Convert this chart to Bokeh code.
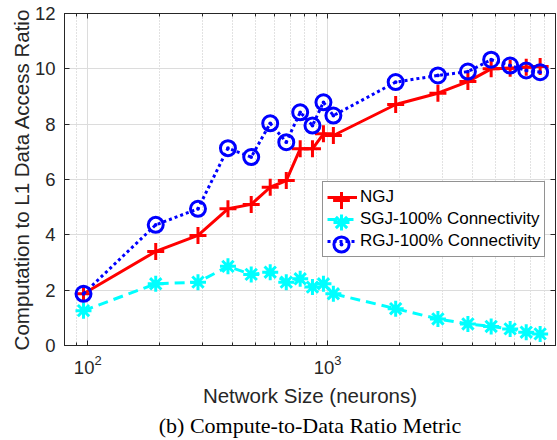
from bokeh.plotting import figure
from bokeh.models import (LogAxis, LinearAxis, FixedTicker, Legend, LegendItem,
                          Title, Range1d, CustomJSTickFormatter)
from bokeh.embed import file_html
from bokeh.resources import INLINE

# ---- data ----
network_size = [96, 192, 288, 384, 480, 576, 672, 768, 864, 960, 1056,
                1920, 2880, 3840, 4800, 5760, 6720, 7680]
ngj = [1.87, 3.40, 3.98, 4.94, 5.10, 5.72, 5.96, 7.11, 7.11, 7.65, 7.59,
       8.71, 9.12, 9.54, 10.00, 10.02, 10.06, 10.08]
sgj = [1.26, 2.23, 2.29, 2.86, 2.57, 2.65, 2.29, 2.41, 2.11, 2.23, 1.87,
       1.33, 0.96, 0.78, 0.69, 0.60, 0.48, 0.42]
rgj = [1.87, 4.36, 4.94, 7.13, 6.81, 8.03, 7.35, 8.43, 7.95, 8.79, 8.31,
       9.52, 9.76, 9.90, 10.33, 10.12, 9.94, 9.88]

x_major = [100, 1000]
x_minor = [80, 90, 200, 300, 400, 500, 600, 700, 800, 900,
           2000, 3000, 4000, 5000, 6000, 7000, 8000]
y_ticks = [0, 2, 4, 6, 8, 10, 12]

series_labels = ["NGJ", "SGJ-100% Connectivity", "RGJ-100% Connectivity"]
x_label = "Network Size (neurons)"
y_label = "Computation to L1 Data Access Ratio"
caption = "(b) Compute-to-Data Ratio Metric"

AX = "#262626"
FONT = "Liberation Sans"

p = figure(width=557, height=440, x_axis_type="log",
           x_range=Range1d(80, 8900), y_range=Range1d(0, 12),
           output_backend="svg", toolbar_location=None,
           min_border_left=64, min_border_right=2, min_border_top=13,
           min_border_bottom=95)
p.background_fill_color = "white"
p.border_fill_color = "white"
p.outline_line_color = AX

xt = FixedTicker(ticks=x_major, minor_ticks=x_minor)
yt = FixedTicker(ticks=y_ticks, minor_ticks=[])

for ax in p.xaxis:
    ax.ticker = xt
    ax.axis_label = x_label
for ax in p.yaxis:
    ax.ticker = yt
    ax.axis_label = y_label

def style_axis(ax):
    ax.axis_line_color = AX
    ax.major_tick_line_color = AX
    ax.minor_tick_line_color = AX
    ax.major_tick_in = 5
    ax.major_tick_out = 0
    ax.minor_tick_in = 3
    ax.minor_tick_out = 0
    ax.major_label_text_color = AX
    ax.major_label_text_font = FONT
    ax.major_label_text_font_size = "18.5px"
    ax.axis_label_text_color = AX
    ax.axis_label_text_font = FONT
    ax.axis_label_text_font_size = "20.5px"
    ax.axis_label_text_font_style = "normal"

for ax in p.xaxis + p.yaxis:
    style_axis(ax)
p.xaxis.major_label_standoff = 9
p.xaxis.axis_label_standoff = 7
p.yaxis.major_label_standoff = 9
p.yaxis.axis_label_standoff = -1

# box axes (top / right) with inward ticks, no labels
blank = CustomJSTickFormatter(code="return ''")
top = LogAxis(ticker=xt, formatter=blank)
right = LinearAxis(ticker=yt, formatter=blank)
for ax in (top, right):
    style_axis(ax)
    ax.major_label_text_font_size = "0px"
    ax.major_label_standoff = 0
p.add_layout(top, "above")
p.add_layout(right, "right")

# grids
p.xgrid.ticker = xt
p.ygrid.ticker = yt
p.xgrid.grid_line_color = "#dcdcdc"
p.ygrid.grid_line_color = "#dcdcdc"
p.xgrid.minor_grid_line_color = "#c4c4c4"
p.xgrid.minor_grid_line_dash = "1 2"

# series
l1 = p.line(network_size, ngj, line_color="#ff0000", line_width=3)
m1 = p.scatter(network_size, ngj, marker="cross", size=17,
               line_color="#ff0000", line_width=3)
l2 = p.line(network_size, sgj, line_color="#00ffff", line_width=3,
            line_dash="10 6")
m2 = p.scatter(network_size, sgj, marker="asterisk", size=16,
               line_color="#00ffff", line_width=3)
l3 = p.line(network_size, rgj, line_color="#0000ff", line_width=3,
            line_dash="3 3")
m3 = p.scatter(network_size, rgj, marker="circle_dot", size=15,
               line_color="#0000ff", fill_color=None, line_width=3)

# legend: lines + labels (framed box)
legend = Legend(items=[
    LegendItem(label=series_labels[0], renderers=[l1]),
    LegendItem(label=series_labels[1], renderers=[l2]),
    LegendItem(label=series_labels[2], renderers=[l3]),
], location=(258, 88))
legend.border_line_color = AX
legend.border_line_width = 1
legend.background_fill_color = "white"
legend.background_fill_alpha = 1
legend.label_text_font = FONT
legend.label_text_font_size = "17px"
legend.label_text_color = "black"
legend.glyph_width = 30
legend.glyph_height = 22
legend.label_height = 22
legend.spacing = 0
legend.padding = 4
legend.margin = 0
legend.label_standoff = 3
p.add_layout(legend, "center")

# legend markers at full size (one transparent legend per series marker)
marker_rows = [(m1, 42.5), (m2, 40), (m3, 37.5)]
for i, (m, gsz) in enumerate(marker_rows):
    cy = 88 + 72 - 4 - 11 - 22 * i  # row centre, px above frame bottom
    lg = Legend(items=[LegendItem(label=" ", renderers=[m])],
                location=(277 - gsz / 2.0, cy - gsz / 2.0))
    lg.glyph_width = int(round(gsz))
    lg.glyph_height = int(round(gsz))
    lg.label_height = int(round(gsz))
    lg.label_standoff = 0
    lg.label_text_font_size = "1px"
    lg.padding = 0
    lg.margin = 0
    lg.spacing = 0
    lg.border_line_color = None
    lg.background_fill_alpha = 0
    p.add_layout(lg, "center")

cap = Title(text=caption, align="center", text_font="Liberation Serif",
            text_font_size="22px", text_font_style="normal",
            text_color="black", standoff=2)
p.add_layout(cap, "below")

open("out.html", "w").write(file_html(p, INLINE))
